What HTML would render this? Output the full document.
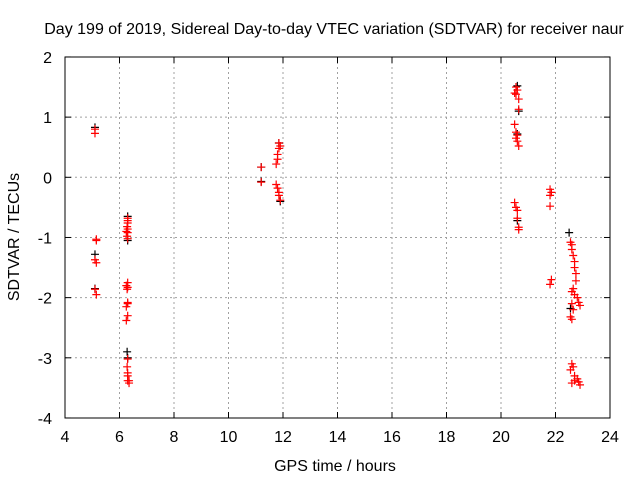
<!DOCTYPE html>
<html><head><meta charset="utf-8"><style>
body{margin:0;background:#fff}
svg text{font-family:"Liberation Sans",sans-serif;font-size:16px;fill:#000}
</style></head><body>
<svg id="chart" width="640" height="480">
<text x="334" y="34" text-anchor="middle">Day 199 of 2019, Sidereal Day-to-day VTEC variation (SDTVAR) for receiver naur</text>
<text x="335" y="471" text-anchor="middle">GPS time / hours</text>
<text transform="translate(19,237) rotate(-90)" text-anchor="middle">SDTVAR / TECUs</text>
<g id="grid"></g><g id="marks"></g>
<rect x="65" y="57" width="545" height="361" fill="none" stroke="#000"/>
</svg>
<script>
const xTicks=[4,6,8,10,12,14,16,18,20,22,24];
const yTicks=[2,1,0,-1,-2,-3,-4];
const redX=[5.1,5.1,5.15,5.15,5.1,5.15,5.1,5.15,
6.3,6.3,6.3,6.28,6.3,6.25,6.3,6.28,6.3,6.3,6.25,6.3,6.28,6.3,6.3,6.25,6.3,6.25,6.3,6.28,6.3,6.3,6.3,6.35,6.35,
11.2,11.2,11.85,11.9,11.85,11.8,11.8,11.75,11.75,11.8,11.85,11.85,11.9,
20.55,20.6,20.5,20.55,20.65,20.65,20.5,20.55,20.6,20.55,20.6,20.65,20.5,20.55,20.6,20.6,20.65,20.65,
21.8,21.85,21.8,21.8,21.85,21.8,
22.55,22.6,22.6,22.65,22.7,22.7,22.75,22.75,22.65,22.6,22.7,22.8,22.85,22.9,22.6,22.65,22.55,22.6,22.55,22.6,22.65,22.7,22.8,22.85,22.9,22.6,22.7];
const redY=[0.8,0.73,-1.03,-1.05,-1.37,-1.42,-1.86,-1.95,
-0.68,-0.72,-0.76,-0.82,-0.86,-0.9,-0.92,-0.98,-1.02,-1.75,-1.8,-1.83,-1.86,-2.08,-2.1,-2.15,-2.3,-2.38,-3.02,-3.15,-3.25,-3.3,-3.38,-3.42,-3.38,
0.17,-0.08,0.57,0.52,0.48,0.38,0.3,0.22,-0.12,-0.18,-0.25,-0.3,-0.38,
1.5,1.45,1.4,1.38,1.3,1.13,0.88,0.75,0.7,0.65,0.6,0.52,-0.42,-0.5,-0.55,-0.68,-0.83,-0.87,
-0.2,-0.25,-0.3,-0.48,-1.7,-1.78,
-1.08,-1.12,-1.2,-1.3,-1.4,-1.5,-1.6,-1.72,-1.85,-1.9,-1.95,-2.0,-2.08,-2.13,-2.1,-2.2,-2.32,-2.36,-3.2,-3.1,-3.15,-3.3,-3.35,-3.4,-3.45,-3.42,-3.38];
const blackX=[5.1,5.1,5.1,6.3,6.3,6.28,6.3,11.2,11.2,11.85,11.9,20.6,20.65,20.6,20.6,22.5,22.55];
const blackY=[0.83,-1.28,-1.85,-0.65,-1.05,-2.9,-3.0,0.17,-0.07,0.57,-0.4,1.52,1.1,0.72,-0.72,-0.92,-2.18];
const NS='http://www.w3.org/2000/svg';
const sx=v=>65+(v-4)*27.25, sy=v=>177.3-v*60.17;
const grid=document.getElementById('grid'), marks=document.getElementById('marks');
function mk(t,a,p){const e=document.createElementNS(NS,t);for(const k in a)e.setAttribute(k,a[k]);p.appendChild(e);return e;}
xTicks.forEach(t=>{const x=sx(t);
 if(t>4&&t<24){const l=mk('line',{x1:x,x2:x,y1:57,y2:418,stroke:'#a0a0a0','stroke-dasharray':'2,3'},grid);
 
 }
 mk('line',{x1:x,x2:x,y1:418,y2:412,stroke:'#000'},grid);mk('line',{x1:x,x2:x,y1:57,y2:63,stroke:'#000'},grid);
 const tx=mk('text',{x:x,y:442,'text-anchor':'middle'},grid);tx.textContent=t;
 
 });
yTicks.forEach(t=>{const y=sy(t);
 if(t<2&&t>-4){const l=mk('line',{x1:65,x2:610,y1:y,y2:y,stroke:'#a0a0a0','stroke-dasharray':'2,3'},grid);
 
 }
 mk('line',{x1:65,x2:71,y1:y,y2:y,stroke:'#000'},grid);mk('line',{x1:610,x2:604,y1:y,y2:y,stroke:'#000'},grid);
 const tx=mk('text',{x:52,y:y+6,'text-anchor':'end'},grid);tx.textContent=t;
 
 });
function plus(x,y,c,name){const g=mk('path',{d:`M${sx(x)-4},${sy(y)}h8M${sx(x)},${sy(y)-4}v8`,stroke:c,'stroke-width':1.2},marks);
 
 }
blackX.forEach((x,i)=>plus(x,blackY[i],'#000','black-point'));
redX.forEach((x,i)=>plus(x,redY[i],'#f00','red-point'));
</script>
</body></html>
